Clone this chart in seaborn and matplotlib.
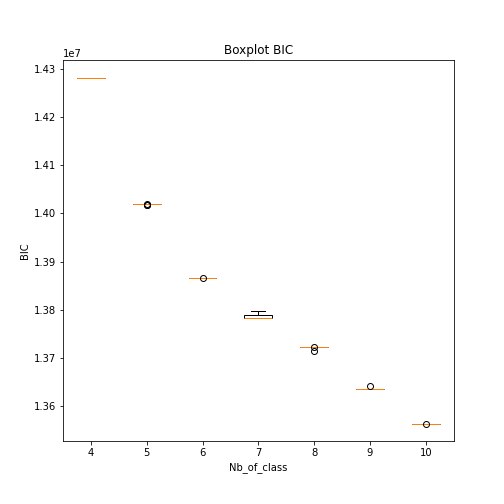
import matplotlib
matplotlib.use("Agg")
import matplotlib.pyplot as plt
import seaborn as sns
import pandas as pd

# BIC values per number of classes
bic_4 = [14281300] * 10
bic_5 = [14018500] * 7 + [14018200, 14018300, 14018800]
bic_6 = [13866400] * 9 + [13866600]
bic_7 = [13783400] * 6 + [13789600, 13789600, 13793000, 13797900]
bic_8 = [13723200] * 7 + [13723000, 13722700, 13713500]
bic_9 = [13636100] * 9 + [13641500]
bic_10 = [13563500] * 9 + [13563600]

classes = [4, 5, 6, 7, 8, 9, 10]
series = [bic_4, bic_5, bic_6, bic_7, bic_8, bic_9, bic_10]

rows = []
for c, vals in zip(classes, series):
    for v in vals:
        rows.append({"Nb_of_class": c, "BIC": v})
df = pd.DataFrame(rows)

fig = plt.figure(figsize=(7, 7), dpi=72)
ax = fig.add_axes([0.125, 0.125, 0.775, 0.755])

sns.boxplot(
    data=df, x="Nb_of_class", y="BIC", ax=ax,
    color="white", linecolor="black", linewidth=1, width=0.5,
    medianprops={"color": "#ff7f0e", "linewidth": 1, "zorder": 6},
    flierprops={"marker": "o", "markerfacecolor": "none",
                "markeredgecolor": "black", "markersize": 6, "zorder": 7},
)
ax.set_title("Boxplot BIC")
ax.set_xlabel("Nb_of_class")
ax.set_ylabel("BIC")

fig.savefig("out.png", dpi=72)
